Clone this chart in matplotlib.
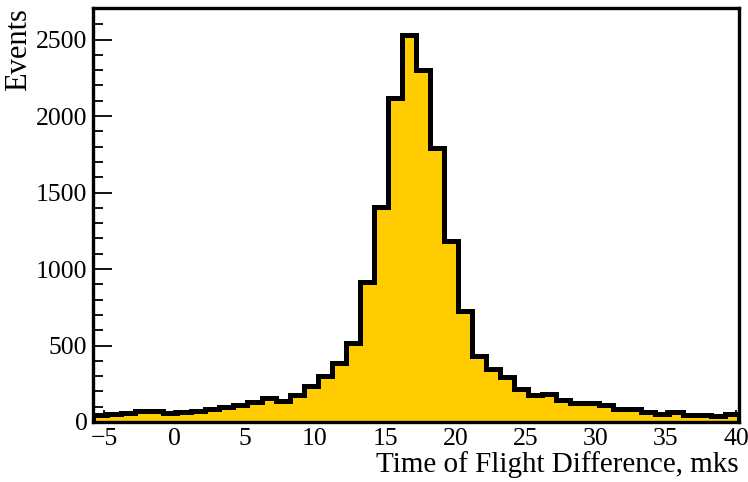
import numpy as np
import matplotlib
matplotlib.use("Agg")
import matplotlib.pyplot as plt
from matplotlib.ticker import MultipleLocator

plt.rcParams.update({
    "font.family": ["Liberation Serif", "DejaVu Serif"],
    "font.size": 18.5,
})

# histogram: 46 bins of width 1 from -5.8 to 40.2
bin_lo = -5.8
bin_hi = 40.2
counts = [48, 55, 62, 70, 74, 60, 66, 72, 82, 95,
          112, 128, 158, 140, 178, 238, 298, 386, 517, 914,
          1404, 2115, 2529, 2300, 1789, 1186, 725, 434, 346, 292,
          216, 176, 183, 146, 124, 124, 111, 85, 85, 63,
          52, 68, 48, 48, 41, 54]

edges = np.linspace(bin_lo, bin_hi, len(counts) + 1)

fig = plt.figure(figsize=(7.48, 4.82), dpi=100)
ax = fig.add_axes([0.1243, 0.1245, 0.8637, 0.8585])

ax.stairs(counts, edges, fill=True, color="#ffcc00", zorder=2)
ax.stairs(counts, edges, color="black", linewidth=3.6, zorder=3)

ax.set_xlim(bin_lo, bin_hi)
ax.set_ylim(0, 2705)

ax.xaxis.set_major_locator(MultipleLocator(5))
ax.xaxis.set_minor_locator(MultipleLocator(1))
ax.yaxis.set_major_locator(MultipleLocator(500))
ax.yaxis.set_minor_locator(MultipleLocator(100))

ax.tick_params(axis="both", which="both", direction="in", top=False, right=False,
               color="black", width=1.3)
ax.tick_params(axis="x", which="major", length=9, pad=4)
ax.tick_params(axis="x", which="minor", length=4.5)
ax.tick_params(axis="y", which="major", length=14, pad=4)
ax.tick_params(axis="y", which="minor", length=7)

for s in ax.spines.values():
    s.set_linewidth(2.4)

ax.set_xlabel("Time of Flight Difference, mks", loc="right", labelpad=1,
              fontsize=21)
ax.set_ylabel("Events", loc="top", labelpad=2, fontsize=22)

fig.savefig("out.png", dpi=100)
